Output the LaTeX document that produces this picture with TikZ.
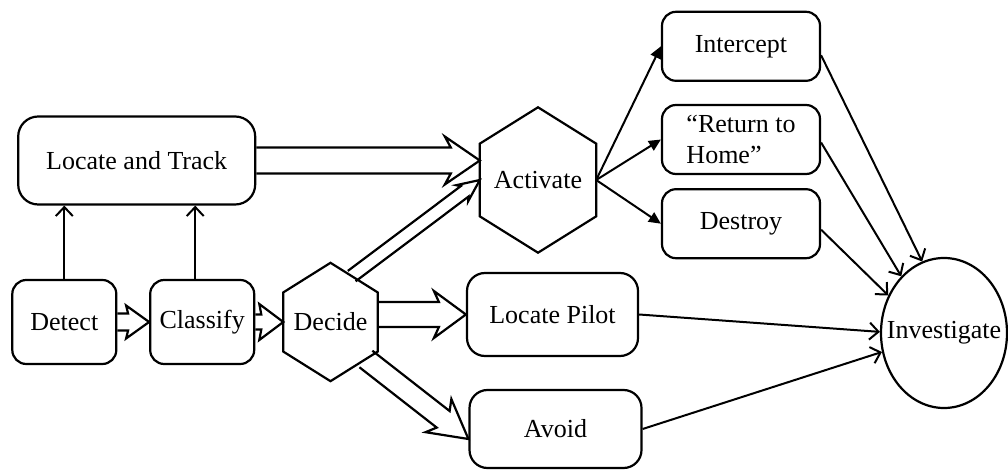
\documentclass[tikz,border=0pt]{standalone}
\usepackage{fontspec}
\setmainfont{Liberation Serif}
\usetikzlibrary{arrows.meta, positioning, shapes.geometric, calc}

% hexagon outline on a rectangular node
\newcommand\drawhex[1]{%
  \coordinate (#1-n) at (#1.north);
  \coordinate (#1-ne) at ($(#1.north east)!.25!(#1.south east)$);
  \coordinate (#1-se) at ($(#1.north east)!.75!(#1.south east)$);
  \coordinate (#1-s) at (#1.south);
  \coordinate (#1-sw) at ($(#1.north west)!.75!(#1.south west)$);
  \coordinate (#1-nw) at ($(#1.north west)!.25!(#1.south west)$);
  \draw[outline] (#1-n) -- (#1-ne) -- (#1-se) -- (#1-s) -- (#1-sw) -- (#1-nw) -- cycle;}

% hollow block arrow: start, tip, shaft half width, head half width, head length, barb sweep
\newcommand\blockarrow[6]{%
  \coordinate (ba-j) at ($(#2)!#5!(#1)$);
  \coordinate (ba-b) at ($(#2)!#5+#6!(#1)$);
  \draw[outline] ($(#1)!#3!90:(#2)$) -- ($(ba-j)!#3!90:(#2)$) -- ($(ba-b)!#4!90:(#2)$) -- (#2)
    -- ($(ba-b)!#4!-90:(#2)$) -- ($(ba-j)!#3!-90:(#2)$) -- ($(#1)!#3!-90:(#2)$);}

\begin{document}
\begin{tikzpicture}[x=1pt, y=1pt,
  box/.style={draw, line width=2.2pt, rounded corners=14pt, minimum width=158pt, minimum height=69pt, align=center, font=\fontsize{26}{31}\selectfont},
  hexbox/.style={inner sep=0pt, font=\fontsize{26}{31}\selectfont},
  outline/.style={line width=2.2pt, line join=miter},
  link/.style={line width=2pt, -{Straight Barb[length=9pt, width=17pt]}},
  solidlink/.style={line width=2pt, -{Triangle[length=12pt, width=11pt]}}]
\useasboundingbox (0,0) rectangle (1008,471);
\clip (0,0) rectangle (1008,471);
\fill[white] (0,0) rectangle (1008,471);

\node[box, minimum width=104pt, minimum height=84pt] (det) at (64.3,149) {Detect};
\node[box, minimum width=104pt, minimum height=84pt, right=31.7pt of det] (cls) {Classify};
\node[hexbox, minimum width=94pt, minimum height=118pt, right=28pt of cls] (dec) {Decide};
\node[box, minimum width=237pt, minimum height=88pt, rounded corners=20pt] (lt) at (136.7,310.5) {Locate and Track};
\node[hexbox, minimum width=116pt, minimum height=145pt] (act) at (538,291) {Activate};
\node[box, align=left] (ret) at (741,331.5) {“Return to\\Home”};
\node[box, above=22pt of ret] (int) {Intercept};
\node[box, below=13pt of ret] (des) {Destroy};
\node[box, minimum width=171pt, minimum height=83pt, rounded corners=18pt] (pil) at (552.5,156.5) {Locate Pilot};
\node[box, minimum width=172pt, minimum height=78pt, rounded corners=18pt] (avo) at (555.5,42) {Avoid};
\node[draw, ellipse, line width=2.2pt, minimum width=126pt, minimum height=150pt, inner sep=0pt, font=\fontsize{26}{31}\selectfont] (inv) at (944,138) {\makebox[0pt]{Investigate}};

\drawhex{dec}
\drawhex{act}

% block arrows
\coordinate (ltact) at (lt.east -| act.west);
\coordinate (decup) at ($(dec-n)!.45!(dec-ne)$);
\coordinate (decmid) at (dec.east |- pil.west);
\coordinate (declow) at ($(dec-se)!.25!(dec-s)$);
\coordinate (avotip) at ([yshift=-10pt]avo.west);
\blockarrow{det.east}{cls.west}{8.5pt}{16.5pt}{21pt}{2pt}
\blockarrow{cls.east}{dec.west}{7.5pt}{18pt}{22pt}{2pt}
\blockarrow{lt.east}{ltact}{13pt}{24pt}{29pt}{6pt}
\blockarrow{decup}{act.west}{6.5pt}{10pt}{19pt}{3pt}
\blockarrow{decmid}{pil.west}{12.5pt}{23.5pt}{27pt}{5pt}
\blockarrow{declow}{avotip}{10.5pt}{21pt}{32pt}{6pt}

% plain arrows
\draw[link] (det.north) -- (det.north |- lt.south);
\draw[link] ([xshift=-7pt]cls.north) -- ([xshift=-7pt]cls.north |- lt.south);
\draw[solidlink] (act.east) -- (int.west);
\draw[solidlink] (act.east) -- (ret.west);
\draw[solidlink] (act.east) -- (des.west);
\draw[link] ([yshift=-9pt]int.east) -- (inv.107);
\draw[link] ([yshift=-3pt]ret.east) -- (inv.127);
\draw[link] ([yshift=-6pt]des.east) -- (inv.146);
\draw[link] (pil.east) -- (inv.179);
\draw[link] (avo.east) -- (inv.197);
\end{tikzpicture}
\end{document}
